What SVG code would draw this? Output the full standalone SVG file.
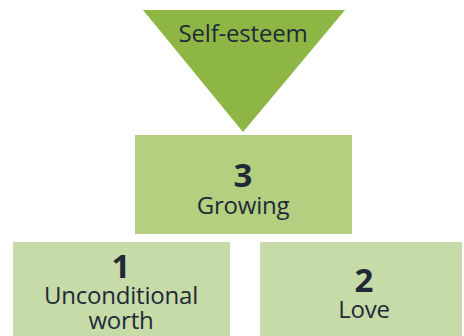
<svg xmlns="http://www.w3.org/2000/svg" width="464" height="336" viewBox="0 0 464 336">
  <style>
    .lbl { font-family: "Open Sans", "Noto Sans", "Liberation Sans", sans-serif; fill: #1f2a38; text-anchor: middle; font-size: 24px; letter-spacing: -0.2px; }
    .num { font-weight: bold; font-size: 33px; letter-spacing: 0; }
  </style>
  <rect width="464" height="336" fill="#ffffff"/>
  <g id="self-esteem">
    <polygon points="143,10 345,10 243,132" fill="#8db644"/>
    <text class="lbl" x="243" y="42">Self-esteem</text>
  </g>
  <g id="growing">
    <rect x="135" y="135" width="217" height="99" fill="#b4cf80"/>
    <text class="lbl"><tspan class="num" x="243" y="187">3</tspan><tspan x="243" y="214">Growing</tspan></text>
  </g>
  <g id="unconditional-worth">
    <rect x="13" y="242" width="217" height="94" fill="#c6dba7"/>
    <text class="lbl"><tspan class="num" x="121" y="278">1</tspan><tspan x="121" y="304">Unconditional</tspan><tspan x="121" y="329">worth</tspan></text>
  </g>
  <g id="love">
    <rect x="260" y="242" width="202" height="94" fill="#c6dba7"/>
    <text class="lbl"><tspan class="num" x="364" y="292">2</tspan><tspan x="364" y="318">Love</tspan></text>
  </g>
  <g id="connectors"></g>
</svg>
